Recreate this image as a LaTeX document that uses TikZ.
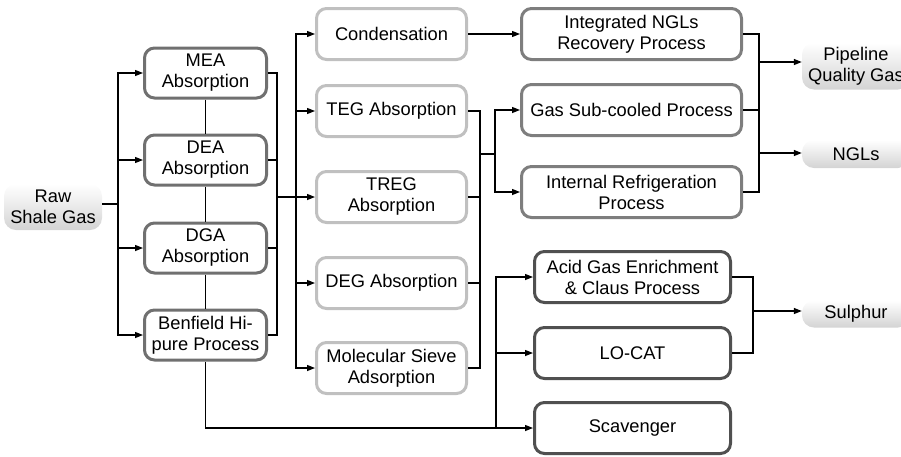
\documentclass[tikz,border=0pt]{standalone}
\usepackage{fontspec}
\setmainfont{Liberation Sans}
\usepackage{xcolor}
\usepackage{tikz}
\usetikzlibrary{arrows.meta}
\definecolor{sweetgray}{HTML}{707070}
\definecolor{drygray}{HTML}{C0C0C0}
\definecolor{nglgray}{HTML}{7E7E7E}
\definecolor{sulgray}{HTML}{505050}

\begin{document}
\begin{tikzpicture}[%
  x=1pt, y=-1pt,
  font=\fontsize{18.3}{21}\selectfont,
  box/.style={line width=3pt, rounded corners=10pt, fill=white,
    align=center, inner sep=0pt},
  sweetbox/.style={box, draw=sweetgray, minimum width=122pt, minimum height=50pt},
  drybox/.style={box, draw=drygray, minimum width=150pt, minimum height=51pt},
  nglbox/.style={box, draw=nglgray, minimum width=220pt, minimum height=51pt},
  sulbox/.style={box, draw=sulgray, minimum width=196pt, minimum height=51pt},
  endbox/.style={rounded corners=12pt, top color=white, bottom color=black!17,
    align=center, inner sep=0pt},
  line/.style={line width=1.3pt},
  arr/.style={line, -{Triangle[length=8pt,width=6pt]}}]
  \useasboundingbox (0,0) rectangle (901,456);

  \node[endbox, minimum width=98pt, minimum height=46pt] (raw) at (53,207) {Raw\\Shale Gas};

  \node[sweetbox] (mea) at (205.5,73) {MEA\\Absorption};
  \node[sweetbox] (dea) at (205.5,160) {DEA\\Absorption};
  \node[sweetbox] (dga) at (205.5,248) {DGA\\Absorption};
  \node[sweetbox] (benf) at (205.5,335) {Benfield Hi-\\pure Process};

  \node[drybox] (cond) at (391.5,34) {Condensation};
  \node[drybox] (teg) at (391.5,111) {TEG Absorption};
  \node[drybox] (treg) at (391.5,197) {TREG\\Absorption};
  \node[drybox] (deg) at (391.5,283) {DEG Absorption};
  \node[drybox] (sieve) at (391.5,368) {Molecular Sieve\\Adsorption};

  \node[nglbox] (integ) at (631.5,34) {Integrated NGLs\\Recovery Process};
  \node[nglbox] (sub) at (631.5,110) {Gas Sub-cooled Process};
  \node[nglbox] (refr) at (631.5,192) {Internal Refrigeration\\Process};

  \node[sulbox] (acid) at (632.5,277) {Acid Gas Enrichment\\\& Claus Process};
  \node[sulbox] (locat) at (632.5,353) {LO-CAT};
  \node[sulbox] (scav) at (632.5,428) {Scavenger};

  \node[endbox, minimum width=108pt, minimum height=47pt] (pipe) at (856,66) {Pipeline\\Quality Gas};
  \node[endbox, minimum width=108pt, minimum height=28pt] (ngl) at (856,154) {NGLs};
  \node[endbox, minimum width=108pt, minimum height=27pt] (sulph) at (856,314) {Sulphur};

  \coordinate (b1) at (118,204);
  \coordinate (b2) at (277,197);
  \coordinate (b3) at (296,197);
  \coordinate (b4) at (480,154);
  \coordinate (b5) at (495,154);
  \coordinate (b6) at (759,62);
  \coordinate (b7) at (759,153);
  \coordinate (b8) at (753,311);
  \coordinate (b9) at (496,428);

  \draw[line] (raw.east |- b1) -- (b1);
  \foreach \n in {mea,dea,dga,benf}
    \draw[arr] (b1) |- (\n.west);
  \draw[line] (mea.south) -- (dea.north) (dea.south) -- (dga.north)
    (dga.south) -- (benf.north);
  \draw[arr] (benf.south) |- (scav.west);

  \foreach \n in {mea,dea,dga,benf}
    \draw[line] (\n.east) -| (b2);
  \draw[line] (b2) -- (b3);
  \foreach \n in {cond,teg,treg,deg,sieve}
    \draw[arr] (b3) |- (\n.west);

  \foreach \n in {teg,treg,deg,sieve}
    \draw[line] (\n.east) -| (b4);
  \draw[line] (b4) -- (b5);
  \draw[arr] (b5) |- (sub.west);
  \draw[arr] (b5) |- (refr.west);
  \draw[arr] (cond.east) -- (integ.west);

  \draw[line] (integ.east) -| (b6) -- (b7) |- (refr.east);
  \draw[line] (sub.east) -- (sub.east -| b6);
  \draw[arr] (b6) -- (b6 -| pipe.west);
  \draw[arr] (b7) -- (b7 -| ngl.west);

  \draw[arr] (b9) |- (acid.west);
  \draw[arr] (b9) |- (locat.west);
  \draw[line] (acid.east) -| (b8);
  \draw[line] (locat.east) -| (b8);
  \draw[arr] (b8) -- (b8 -| sulph.west);
\end{tikzpicture}
\end{document}
